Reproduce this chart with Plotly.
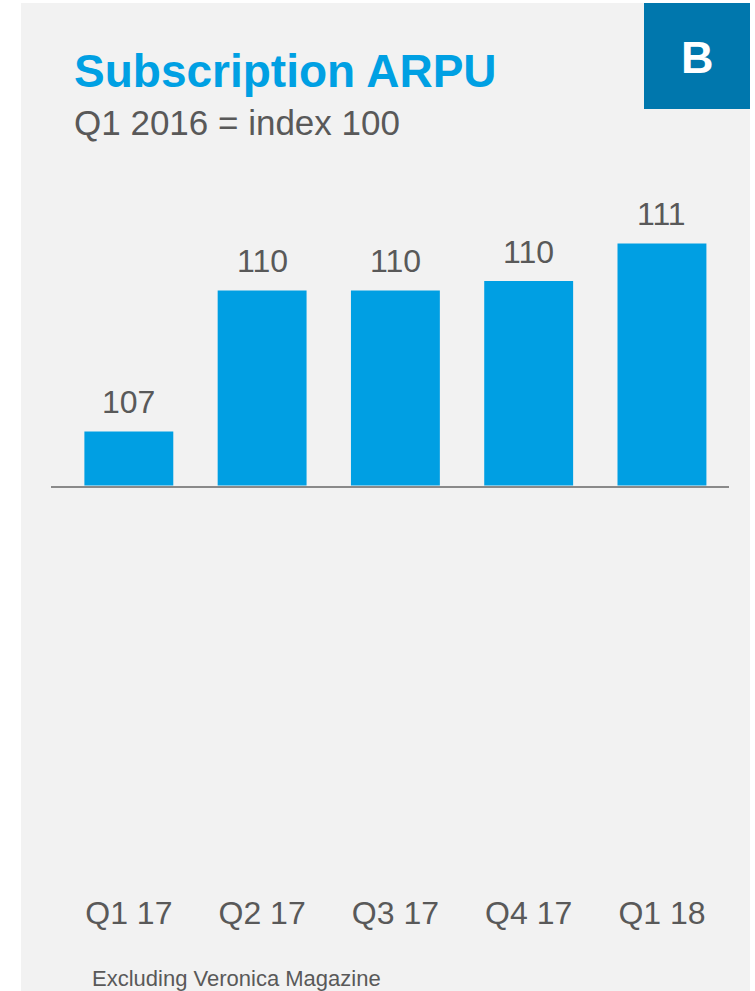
import plotly.graph_objects as go

# Chart data
quarters = ["Q1 17", "Q2 17", "Q3 17", "Q4 17", "Q1 18"]
arpu_index = [107, 110, 110, 110.2, 111]   # Q1 2016 = index 100
axis_floor = 105.85                         # value where the baseline sits

W, H = 755, 991
BLUE = "#009FE3"
DARK_BLUE = "#0077AD"
PANEL = "#F2F2F2"
GREY_TXT = "#595959"
FONT = "Liberation Sans, Arial, sans-serif"


def px_x(p):
    return p / W


def px_y(p):
    return 1 - p / H


fig = go.Figure()

fig.add_trace(go.Bar(
    x=quarters,
    y=arpu_index,
    marker=dict(color=BLUE, line=dict(width=0)),
    width=0.667,
    hoverinfo="x+y",
))

# value labels above each bar
annotations = []
for q, v in zip(quarters, arpu_index):
    annotations.append(dict(
        x=q, y=v, xref="x", yref="y",
        text=f"{v:.0f}", showarrow=False,
        xanchor="center", yanchor="bottom", yshift=9,
        font=dict(family=FONT, size=32, color=GREY_TXT),
    ))

# headings, footnote and the panel badge
annotations += [
    dict(x=px_x(72), y=px_y(71), xref="paper", yref="paper",
         text="<b>Subscription ARPU</b>", showarrow=False,
         xanchor="left", yanchor="middle",
         font=dict(family=FONT, size=46, color="#00A0E3")),
    dict(x=px_x(72), y=px_y(123), xref="paper", yref="paper",
         text="Q1 2016 = index 100", showarrow=False,
         xanchor="left", yanchor="middle",
         font=dict(family=FONT, size=35, color=GREY_TXT)),
    dict(x=px_x(90), y=px_y(978), xref="paper", yref="paper",
         text="Excluding Veronica Magazine", showarrow=False,
         xanchor="left", yanchor="middle",
         font=dict(family=FONT, size=22, color=GREY_TXT)),
    dict(x=px_x(697), y=px_y(57), xref="paper", yref="paper",
         text="<b>B</b>", showarrow=False,
         xanchor="center", yanchor="middle",
         font=dict(family=FONT, size=45, color="white")),
]

shapes = [
    dict(type="rect", xref="paper", yref="paper",
         x0=px_x(21), x1=px_x(750), y0=0, y1=px_y(3),
         fillcolor=PANEL, line=dict(width=0), layer="below"),
    dict(type="rect", xref="paper", yref="paper",
         x0=px_x(644), x1=px_x(750), y0=px_y(109), y1=px_y(3),
         fillcolor=DARK_BLUE, line=dict(width=0), layer="above"),
]

plot_top, plot_bottom = 150, 485.5
px_per_unit = 47.0
y_top = axis_floor + (plot_bottom - plot_top) / px_per_unit

fig.update_layout(
    width=W, height=H,
    margin=dict(l=0, r=0, t=0, b=0),
    paper_bgcolor="white",
    plot_bgcolor="rgba(0,0,0,0)",
    showlegend=False,
    annotations=annotations,
    shapes=shapes,
    xaxis=dict(
        domain=[px_x(51), px_x(729)],
        range=[-0.584, 4.503],
        showgrid=False, zeroline=False,
        showline=True, linecolor="#8A8A8A", linewidth=2,
        ticks="",
        tickfont=dict(family=FONT, size=32, color=GREY_TXT),
        ticklabelstandoff=398,
        fixedrange=True,
    ),
    yaxis=dict(
        domain=[px_y(plot_bottom), px_y(plot_top)],
        range=[axis_floor, y_top],
        visible=False,
        fixedrange=True,
    ),
)

fig.write_html("out.html")
